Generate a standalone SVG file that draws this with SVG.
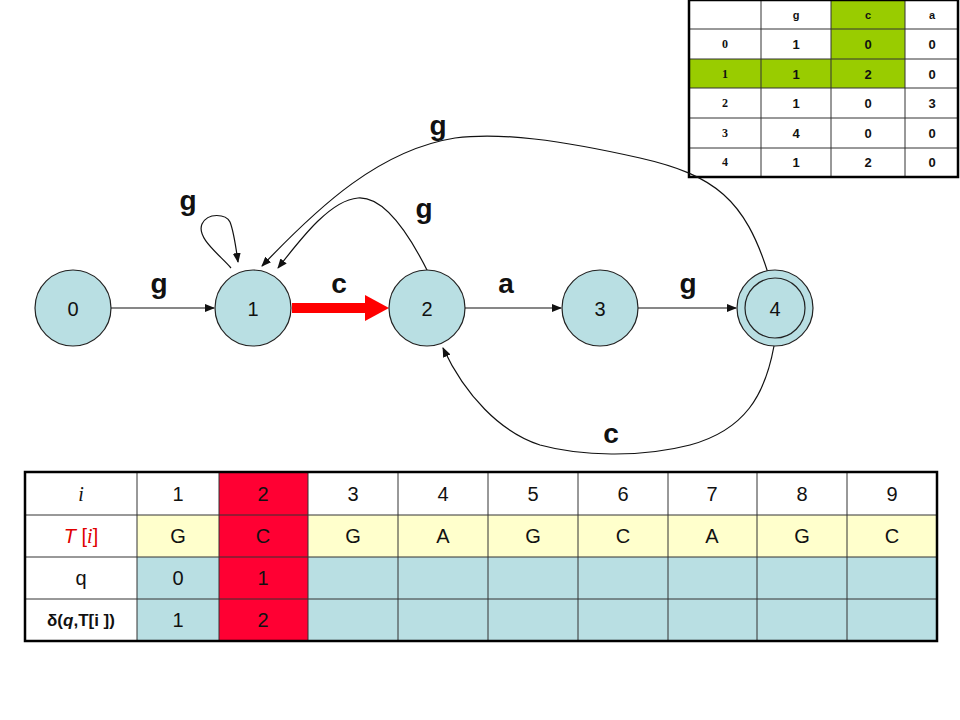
<svg xmlns="http://www.w3.org/2000/svg" width="960" height="720" viewBox="0 0 960 720">
<style>
.node{fill:#b9dfe3;stroke:#222;stroke-width:1.2}
.nl{font-family:"Liberation Sans",Arial,sans-serif;font-size:20px;fill:#111;text-anchor:middle;dominant-baseline:central}
.el{font-family:"Liberation Sans",Arial,sans-serif;font-size:28px;font-weight:bold;fill:#111;text-anchor:middle}
.edge{fill:none;stroke:#111;stroke-width:1.2}
.tt{font-family:"Liberation Sans",Arial,sans-serif;font-size:13px;font-weight:bold;fill:#111;text-anchor:middle;dominant-baseline:central}
.th{font-family:"Liberation Sans",Arial,sans-serif;font-size:11px;font-weight:bold;fill:#111;text-anchor:middle;dominant-baseline:central}
.tr{font-family:"Liberation Serif","Times New Roman",serif;font-size:12px;font-weight:bold;fill:#111;text-anchor:middle;dominant-baseline:central}
.bt{font-family:"Liberation Sans",Arial,sans-serif;font-size:20px;fill:#111;text-anchor:middle;dominant-baseline:central}
.grid{stroke:#333;stroke-width:1;fill:none}
</style>
<defs>
<marker id="arr" markerWidth="10" markerHeight="8" refX="9" refY="4" orient="auto" markerUnits="userSpaceOnUse">
<path d="M0,0 L10,4 L0,8 Z" fill="#111"/>
</marker>
</defs>
<rect width="960" height="720" fill="#fff"/>

<!-- top transition table -->
<g id="transition-table">
<rect x="831" y="0" width="74" height="59" fill="#99cc00"/>
<rect x="689" y="59" width="216" height="29" fill="#99cc00"/>
<g class="grid">
<line x1="761" y1="0" x2="761" y2="177"/>
<line x1="831" y1="0" x2="831" y2="177"/>
<line x1="905" y1="0" x2="905" y2="177"/>
<line x1="689" y1="29" x2="959" y2="29"/>
<line x1="689" y1="59" x2="959" y2="59"/>
<line x1="689" y1="88" x2="959" y2="88"/>
<line x1="689" y1="118" x2="959" y2="118"/>
<line x1="689" y1="148" x2="959" y2="148"/>
</g>
<rect x="689" y="0" width="269" height="177" fill="none" stroke="#000" stroke-width="2.5"/>
<text class="th" x="796" y="15">g</text>
<text class="th" x="868" y="15">c</text>
<text class="th" x="932" y="15">a</text>
<text class="tr" x="725" y="44">0</text>
<text class="tr" x="725" y="74">1</text>
<text class="tr" x="725" y="103">2</text>
<text class="tr" x="725" y="133">3</text>
<text class="tr" x="725" y="162">4</text>
<text class="tt" x="796" y="44">1</text><text class="tt" x="868" y="44">0</text><text class="tt" x="932" y="44">0</text>
<text class="tt" x="796" y="74">1</text><text class="tt" x="868" y="74">2</text><text class="tt" x="932" y="74">0</text>
<text class="tt" x="796" y="103">1</text><text class="tt" x="868" y="103">0</text><text class="tt" x="932" y="103">3</text>
<text class="tt" x="796" y="133">4</text><text class="tt" x="868" y="133">0</text><text class="tt" x="932" y="133">0</text>
<text class="tt" x="796" y="162">1</text><text class="tt" x="868" y="162">2</text><text class="tt" x="932" y="162">0</text>
</g>

<!-- connectors -->
<g id="connectors">
<line class="edge" x1="111" y1="308" x2="214" y2="308" marker-end="url(#arr)"/>
<line class="edge" x1="465" y1="308" x2="561" y2="308" marker-end="url(#arr)"/>
<line class="edge" x1="638" y1="308" x2="736" y2="308" marker-end="url(#arr)"/>
<!-- red c edge -->
<rect x="292" y="303" width="73" height="10" fill="#ff0000"/>
<path d="M365,295 L389,308 L365,321 Z" fill="#ff0000"/>
<!-- self loop g -->
<path class="edge" d="M231,268 C220,255 196,238 202,224 C208,212 226,214 230,222 C234,232 236,248 238,262" marker-end="url(#arr)"/>
<!-- 2 -> 1 g -->
<path class="edge" d="M428,272 C410,236 385,196 358,198 C330,200 300,240 278,268" marker-end="url(#arr)"/>
<!-- 4 -> 1 g -->
<path class="edge" d="M768,273 C745,200 715,175 640,158 C560,140 500,132 455,138 C380,150 320,205 262,266" marker-end="url(#arr)"/>
<!-- 4 -> 2 c -->
<path class="edge" d="M774,346 C765,395 745,430 690,445 C640,458 580,456 540,445 C500,432 465,395 443,348" marker-end="url(#arr)"/>
</g>

<!-- nodes -->
<g id="node-0"><circle class="node" cx="73" cy="308" r="38"/><text class="nl" x="73" y="309">0</text></g>
<g id="node-1"><circle class="node" cx="253" cy="308" r="38"/><text class="nl" x="253" y="309">1</text></g>
<g id="node-2"><circle class="node" cx="427" cy="308" r="38"/><text class="nl" x="427" y="309">2</text></g>
<g id="node-3"><circle class="node" cx="600" cy="308" r="38"/><text class="nl" x="600" y="309">3</text></g>
<g id="node-4"><circle class="node" cx="775" cy="308" r="38"/><circle cx="775" cy="308" r="30" fill="none" stroke="#222" stroke-width="1.2"/><text class="nl" x="775" y="309">4</text></g>

<!-- edge labels -->
<g id="edge-labels">
<text class="el" x="159" y="293">g</text>
<text class="el" x="339" y="293">c</text>
<text class="el" x="506" y="293">a</text>
<text class="el" x="688" y="293">g</text>
<text class="el" x="188" y="210">g</text>
<text class="el" x="424" y="218">g</text>
<text class="el" x="438" y="135">g</text>
<text class="el" x="611" y="443">c</text>
</g>

<!-- bottom table -->
<g id="input-table">
<rect x="137" y="515" width="800" height="42" fill="#ffffcc"/>
<rect x="137" y="557" width="800" height="84" fill="#b9dfe3"/>
<rect x="219" y="472" width="89" height="169" fill="#ff0033"/>
<g class="grid">
<line x1="137" y1="472" x2="137" y2="641"/>
<line x1="219" y1="472" x2="219" y2="641"/>
<line x1="308" y1="472" x2="308" y2="641"/>
<line x1="398" y1="472" x2="398" y2="641"/>
<line x1="488" y1="472" x2="488" y2="641"/>
<line x1="578" y1="472" x2="578" y2="641"/>
<line x1="668" y1="472" x2="668" y2="641"/>
<line x1="757" y1="472" x2="757" y2="641"/>
<line x1="847" y1="472" x2="847" y2="641"/>
<line x1="25" y1="515" x2="937" y2="515"/>
<line x1="25" y1="557" x2="937" y2="557"/>
<line x1="25" y1="599" x2="937" y2="599"/>
</g>
<rect x="25" y="472" width="912" height="169" fill="none" stroke="#000" stroke-width="2.5"/>
<text x="81" y="494" font-family="'Liberation Serif','Times New Roman',serif" font-size="20" font-style="italic" fill="#111" text-anchor="middle" dominant-baseline="central">i</text>
<text x="81" y="536" font-family="'Liberation Sans',Arial,sans-serif" font-size="20" fill="#e00000" text-anchor="middle" dominant-baseline="central"><tspan font-style="italic">T</tspan> [<tspan font-family="'Liberation Serif','Times New Roman',serif" font-style="italic">i</tspan>]</text>
<text class="bt" x="81" y="578">q</text>
<text x="81" y="620" font-family="'Liberation Sans',Arial,sans-serif" font-size="17" font-weight="bold" fill="#111" text-anchor="middle" dominant-baseline="central">δ(<tspan font-style="italic">q</tspan>,T[i ])</text>
<text class="bt" x="178" y="494">1</text><text class="bt" x="263" y="494">2</text><text class="bt" x="353" y="494">3</text><text class="bt" x="443" y="494">4</text><text class="bt" x="533" y="494">5</text><text class="bt" x="623" y="494">6</text><text class="bt" x="712" y="494">7</text><text class="bt" x="802" y="494">8</text><text class="bt" x="892" y="494">9</text>
<text class="bt" x="178" y="536">G</text><text class="bt" x="263" y="536">C</text><text class="bt" x="353" y="536">G</text><text class="bt" x="443" y="536">A</text><text class="bt" x="533" y="536">G</text><text class="bt" x="623" y="536">C</text><text class="bt" x="712" y="536">A</text><text class="bt" x="802" y="536">G</text><text class="bt" x="892" y="536">C</text>
<text class="bt" x="178" y="578">0</text><text class="bt" x="263" y="578">1</text>
<text class="bt" x="178" y="620">1</text><text class="bt" x="263" y="620">2</text>
</g>
</svg>
